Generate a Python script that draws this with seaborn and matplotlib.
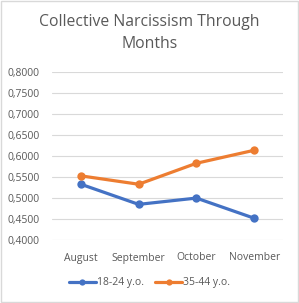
import matplotlib
matplotlib.use("Agg")
import matplotlib.pyplot as plt
import seaborn as sns
import pandas as pd
from matplotlib.ticker import FuncFormatter
from matplotlib.lines import Line2D

months = ["August", "September", "October", "November"]
young = [0.533, 0.485, 0.500, 0.452]
older = [0.553, 0.533, 0.583, 0.614]
series_names = ["18-24 y.o.", "35-44 y.o."]
colors = ["#4472C4", "#ED7D31"]
yticks = [0.40, 0.45, 0.50, 0.55, 0.60, 0.65, 0.70, 0.75, 0.80]

df = pd.DataFrame({
    "month": months * 2,
    "value": young + older,
    "group": [series_names[0]] * 4 + [series_names[1]] * 4,
})

sns.set_style("white")
plt.rcParams["font.family"] = ["Open Sans", "DejaVu Sans"]

fig = plt.figure(figsize=(2.99, 3.03), dpi=100)
ax = fig.add_axes([52/299, 1 - 240/303, 231/299, (240 - 72.3)/303])

sns.lineplot(data=df, x="month", y="value", hue="group", palette=colors,
             marker="o", markersize=6, markeredgewidth=0, linewidth=2.3,
             sort=False, ax=ax, legend=False)

ax.set_xlim(-0.5, 3.5)
ax.set_ylim(0.40, 0.80)
ax.set_yticks(yticks)
ax.yaxis.set_major_formatter(FuncFormatter(lambda v, p: f"{v:.4f}".replace(".", ",")))
ax.grid(axis="y", color="#D9D9D9", linewidth=0.8)
ax.set_axisbelow(True)
for s in ax.spines.values():
    s.set_visible(False)
ax.tick_params(axis="both", length=0, labelsize=7.5, colors="#595959")
ax.tick_params(axis="x", pad=9)
ax.tick_params(axis="y", pad=9)
ax.set_xlabel("")
ax.set_ylabel("")

fig.text(0.5, 1 - 22/303, "Collective Narcissism Through", ha="center", va="center",
         fontsize=11.3, color="#595959")
fig.text(0.5, 1 - 44/303, "Months", ha="center", va="center",
         fontsize=11.3, color="#595959")

handles = [Line2D([], [], color=c, marker="o", markersize=4.5, markeredgewidth=0, linewidth=2.3)
           for c in colors]
fig.legend(handles, series_names, loc="center", bbox_to_anchor=(0.5, 1 - 283/303),
           ncol=2, frameon=False, fontsize=7.5, labelcolor="#595959",
           handlelength=2.6, handletextpad=0.1, columnspacing=1.1)

border = plt.Rectangle((0.003, 0.003), 0.994, 0.994, transform=fig.transFigure,
                       fill=False, edgecolor="#D9D9D9", linewidth=1)
fig.patches.append(border)

fig.savefig("out.png", dpi=100, facecolor="white")
